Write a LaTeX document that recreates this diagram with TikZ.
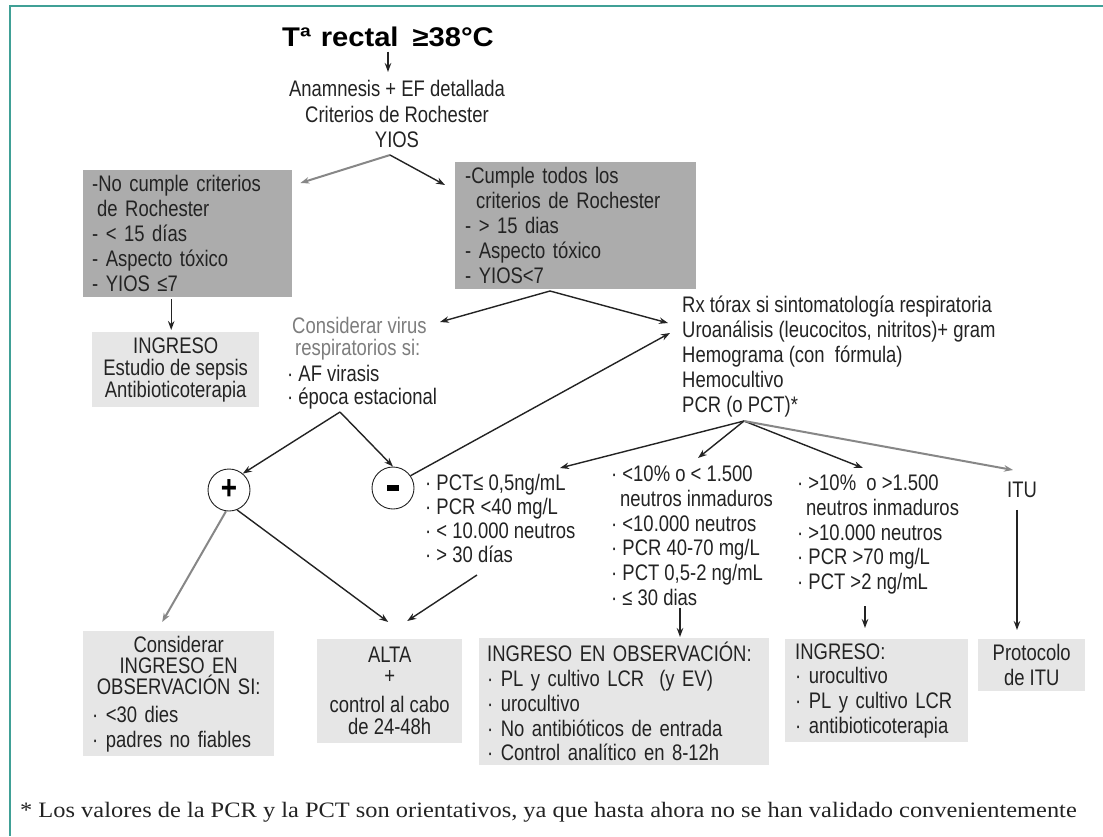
\documentclass[tikz,border=0pt]{standalone}
\usepackage{fontspec}
\setmainfont{Liberation Sans}[FakeStretch=0.82]
\newfontfamily\titlefont{Liberation Sans}[FakeStretch=1.08]
\newfontfamily\footfont{Liberation Serif}[FakeStretch=1.11]
\usetikzlibrary{arrows.meta}
\definecolor{framec}{RGB}{64,160,150}
\definecolor{dbox}{RGB}{172,172,172}
\definecolor{lbox}{RGB}{230,230,230}
\definecolor{ink}{RGB}{35,35,35}
\definecolor{soft}{RGB}{125,125,125}
\definecolor{garrow}{RGB}{135,135,135}
\begin{document}
\begin{tikzpicture}[x=1pt,y=-1pt,
  txt/.style={font=\fontsize{22.5}{25}\selectfont, text=ink, inner sep=0pt},
  darkbox/.style={txt, fill=dbox, anchor=north west, align=left},
  lightbox/.style={txt, fill=lbox, anchor=north west},
  arr/.style={draw=ink, line width=1.4pt, -{Stealth[length=9pt,width=6.5pt]}},
  garr/.style={arr, draw=garrow, line width=2pt},
  sign/.style={circle, draw=ink, line width=0.9pt, minimum size=42pt, inner sep=0pt, text=black, font=\fontsize{34}{34}\selectfont\bfseries},
]
\useasboundingbox (0,0) rectangle (1103,836);
\fill[white] (0,0) rectangle (1103,836);
\draw[framec, line width=2.5pt] (1103,6) -- (10,6) -- (10,836);

% title and first step
\node[inner sep=0pt, text=black, font=\titlefont\bfseries\fontsize{27}{30}\selectfont, anchor=base] (title) at (388,46) {Tª\hspace{10pt}rectal\hspace{14pt}≥38°C};
\node[txt, align=center, anchor=base] (anam) at (397,147.5) {Anamnesis + EF detallada\\[0.5pt]Criterios de Rochester\\[0.5pt]YIOS};
\draw[arr, shorten >=8pt] ([yshift=-5pt]title.south) -- (title.south |- anam.north);

% first split
\node[darkbox, minimum width=209pt, minimum height=127pt, text width=191pt, inner xsep=9pt] (nocumple) at (83,170)
  {-No cumple criterios\\\hspace*{5pt}de Rochester\\- < 15 días\\- Aspecto tóxico\\- YIOS ≤7};
\node[darkbox, minimum width=241pt, minimum height=127pt, text width=221pt, inner xsep=10pt] (cumple) at (455,162)
  {-Cumple todos los\\\hspace*{11pt}criterios de Rochester\\- > 15 dias\\- Aspecto tóxico\\- YIOS<7};
\coordinate (yfork) at (390,155);
\draw[garr] (yfork) -- ([xshift=8pt,yshift=-13pt]nocumple.north east);
\draw[arr] (yfork) -- ([xshift=-10pt,yshift=-23pt]cumple.north west);

% ingreso (left)
\node[lightbox, align=center, minimum width=167pt, minimum height=75pt, font=\fontsize{22.5}{22}\selectfont] (ingreso1) at (92,332)
  {INGRESO\\Estudio de sepsis\\Antibioticoterapia};
\draw[arr, shorten <=2pt, shorten >=2pt] ([xshift=-16.5pt]nocumple.south) -- ([xshift=-4.5pt]ingreso1.north);

% virus and tests
\node[txt, align=left, anchor=base west] (virus) at (287,404.5)
  {\hspace*{5pt}\textcolor{soft}{Considerar virus}\\[-3pt]\hspace*{8pt}\textcolor{soft}{respiratorios si:}\\[1pt]· AF virasis\\[-2pt]· época estacional};
\node[txt, align=left, anchor=base west] (rx) at (682,412.5)
  {Rx tórax si sintomatología respiratoria\\Uroanálisis (leucocitos, nitritos)+ gram\\Hemograma (con\ \ fórmula)\\Hemocultivo\\PCR (o PCT)*};
\coordinate (cfork) at (550,291);
\coordinate (virusin) at (440,322);
\coordinate (rxin) at (668,323);
\draw[arr] (cfork) -- (virusin);
\draw[arr] (cfork) -- (rxin);

% plus / minus
\node[sign] (plus) at (229,490) {+};
\node[sign] (minus) at (393,488) {\rule{12pt}{5.5pt}};
\coordinate (vfork) at (340,412);
\draw[arr] (vfork) -- (plus.50);
\draw[arr] (vfork) -- (minus.north);
\coordinate (rxin2) at (670,333);
\draw[arr] (minus.35) -- (rxin2);

% criteria blocks
\node[txt, align=left, anchor=base west, font=\fontsize{22.5}{24}\selectfont] (pctlo) at (425,562.5)
  {· PCT≤ 0,5ng/mL\\· PCR <40 mg/L\\· < 10.000 neutros\\· > 30 días};
\node[txt, align=left, anchor=base west, font=\fontsize{22.5}{24.8}\selectfont] (pctmid) at (611,605.5)
  {· <10\% o < 1.500\\\hspace*{9pt}neutros inmaduros\\· <10.000 neutros\\· PCR 40-70 mg/L\\· PCT 0,5-2 ng/mL\\· ≤ 30 dias};
\node[txt, align=left, anchor=base west, font=\fontsize{22.5}{24.75}\selectfont] (pcthi) at (797,589.5)
  {· >10\%\ \ o >1.500\\\hspace*{9pt}neutros inmaduros\\· >10.000 neutros\\· PCR >70 mg/L\\· PCT >2 ng/mL};
\node[txt, anchor=base west] (itu) at (1007,497.5) {ITU};

\coordinate (pfork) at (744,421);
\coordinate (tlo) at (560,468);
\coordinate (tmid) at (698,458);
\coordinate (thi) at (863,468);
\coordinate (titu) at (1013,470);
\draw[arr] (pfork) -- (tlo);
\draw[arr] (pfork) -- (tmid);
\draw[arr] (pfork) -- (thi);
\draw[garr] (pfork) -- (titu);

% bottom boxes
\node[lightbox, minimum width=191pt, minimum height=125pt, text width=173pt, inner xsep=9pt] (consid) at (83,631)
  {{\centering Considerar\\[-4pt]INGRESO EN\\[-4pt]OBSERVACIÓN SI:\par}\vspace{3pt}\raggedright · <30 dies\\· padres no fiables};
\node[lightbox, align=center, minimum width=145pt, minimum height=104pt] (alta) at (317,639)
  {ALTA\\[-4pt]+\\[4pt]control al cabo\\[-3pt]de 24-48h};
\node[lightbox, align=left, minimum width=290pt, minimum height=127pt, text width=274pt, inner xsep=8pt, font=\fontsize{22.5}{24.75}\selectfont] (ingobs) at (479,638)
  {INGRESO EN OBSERVACIÓN:\\· PL y cultivo LCR\ \ (y EV)\\· urocultivo\\· No antibióticos de entrada\\· Control analítico en 8-12h};
\node[lightbox, align=left, minimum width=183pt, minimum height=103pt, text width=163pt, inner xsep=10pt, font=\fontsize{22.5}{24.7}\selectfont] (ingreso2) at (785,639)
  {INGRESO:\\· urocultivo\\· PL y cultivo LCR\\· antibioticoterapia};
\node[lightbox, align=center, minimum width=107pt, minimum height=52pt] (proto) at (978,639)
  {Protocolo\\de ITU};

% arrows to bottom boxes
\draw[garr] (plus.262) -- ([xshift=-16.5pt,yshift=9pt]consid.north);
\draw[arr] (plus.292) -- ([xshift=-1.5pt,yshift=17pt]alta.north);
\coordinate (lofoot) at (477,575);
\draw[arr] (lofoot) -- ([xshift=17.5pt,yshift=18pt]alta.north);
\coordinate (cmid) at (680,0);
\coordinate (chi) at (865,0);
\coordinate (citu) at (1017,0);
\draw[arr, shorten <=2pt, shorten >=1pt] (pctmid.south -| cmid) -- (ingobs.north -| cmid);
\draw[arr, shorten <=12pt, shorten >=11pt] (pcthi.south -| chi) -- (ingreso2.north -| chi);
\draw[arr, shorten <=12pt, shorten >=9pt] (itu.south -| citu) -- (proto.north -| citu);

% footnote
\node[inner sep=0pt, text=ink, font=\footfont\fontsize{22}{26}\selectfont, anchor=base west] (foot) at (20,817)
  {* Los valores de la PCR y la PCT son orientativos, ya que hasta ahora no se han validado convenientemente};
\end{tikzpicture}
\end{document}
